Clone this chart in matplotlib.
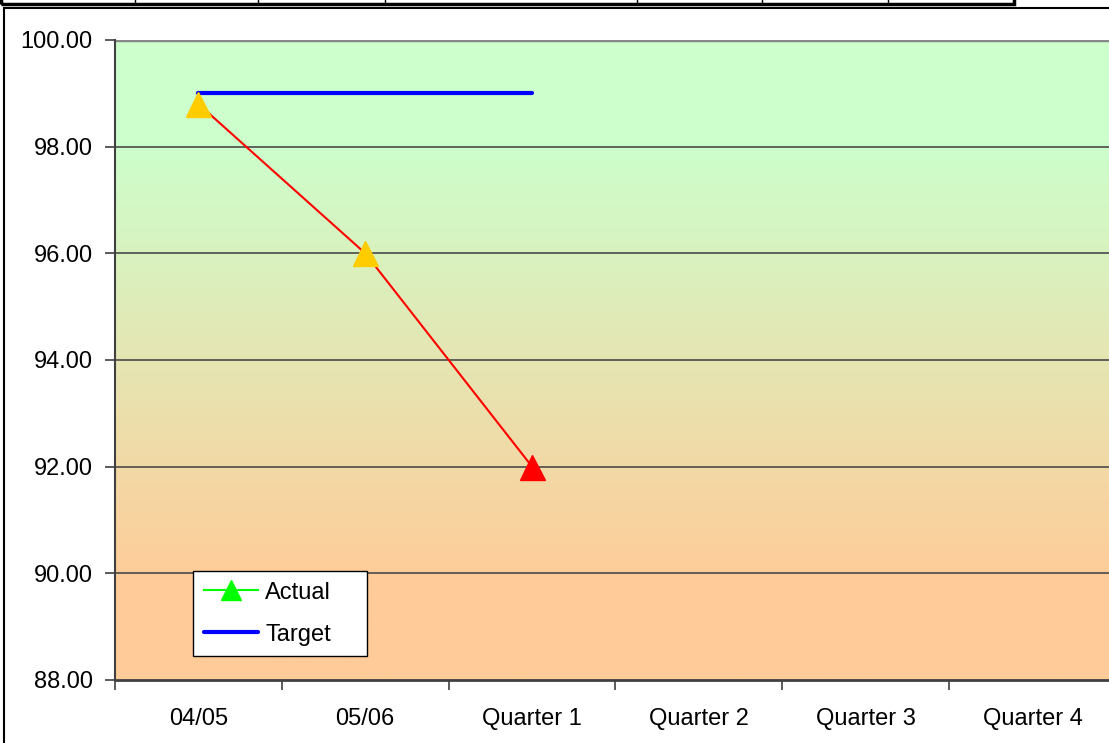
import numpy as np
import matplotlib.pyplot as plt
from matplotlib.lines import Line2D
from matplotlib.patches import Rectangle
from matplotlib.colors import LinearSegmentedColormap

plt.rcParams['font.family'] = ['Liberation Sans', 'DejaVu Sans']

# data
categories = ["04/05", "05/06", "Quarter 1", "Quarter 2", "Quarter 3", "Quarter 4"]
actual = [98.8, 96.0, 92.0]
actual_colors = ["#FFCC00", "#FFCC00", "#FF0000"]
target = [99.0, 99.0, 99.0]
yticks = [88, 90, 92, 94, 96, 98, 100]

W, H = 1109, 743
fig = plt.figure(figsize=(W / 100, H / 100), dpi=100)
fig.patch.set_facecolor("white")

# plot area runs past the right edge of the image
ax = fig.add_axes([115 / W, 63 / H, 1001 / W, 640 / H])
ax.set_xlim(-0.5, len(categories) - 0.5)
ax.set_ylim(88, 100)

# green-to-orange background, flat at both ends
cmap = LinearSegmentedColormap.from_list(
    "bg", [(0.0, "#FFCC99"), (0.16, "#FFCC99"), (0.84, "#CCFFCC"), (1.0, "#CCFFCC")])
grad = np.linspace(0, 1, 256).reshape(-1, 1)
ax.imshow(grad, cmap=cmap, aspect="auto", origin="lower",
          extent=[-0.5, len(categories) - 0.5, 88, 100], zorder=0)

for y in yticks[1:-1]:
    ax.axhline(y, color="#4a4a4a", lw=1.2, zorder=1)
ax.axhline(100, color="#888888", lw=2.5, zorder=1)

x = np.arange(len(categories))
n = len(actual)
ax.plot(x[:len(target)], target, color="#0000FF", lw=3, solid_capstyle="round", zorder=3)
ax.plot(x[:n], actual, color="#FF0000", lw=1.5, zorder=4)
for xi, yi, c in zip(x[:n], actual, actual_colors):
    ax.plot(xi, yi, marker="^", ms=18, color=c, mec=c, zorder=5)

ax.set_yticks(yticks)
ax.set_yticklabels([f"{v:.2f}" for v in yticks], fontsize=17)
ax.set_xticks(x)
ax.set_xticklabels(categories, fontsize=17)
ax.set_xticks(np.arange(-0.5, len(categories)), minor=True)
ax.tick_params(axis="x", which="major", length=0, pad=20)
ax.tick_params(axis="x", which="minor", length=7, width=1.2, color="#404040")
ax.tick_params(axis="y", length=7, width=1.2, color="#404040", pad=9)

for s in ["top", "right"]:
    ax.spines[s].set_visible(False)
ax.spines["left"].set_color("#404040")
ax.spines["left"].set_linewidth(1.5)
ax.spines["bottom"].set_color("#404040")
ax.spines["bottom"].set_linewidth(2)

handles = [
    Line2D([], [], color="#00FF00", lw=1.5, marker="^", ms=14, mfc="#00FF00", mec="#00FF00"),
    Line2D([], [], color="#0000FF", lw=3, solid_capstyle="round"),
]
leg = ax.legend(handles, ["Actual", "Target"], loc="upper left", mode="expand",
                bbox_to_anchor=(193 / W, 1 - 657 / H, 174 / W, 86 / H),
                bbox_transform=fig.transFigure, borderaxespad=0,
                fontsize=17, fancybox=False, framealpha=1, edgecolor="black",
                handlelength=2.3, handletextpad=0.3, borderpad=0.45, labelspacing=0.85)
leg.get_frame().set_linewidth(1.0)

# outer chart frame
fig.add_artist(Rectangle((4 / W, -0.1), 1.2, 1.1 - 8 / H, transform=fig.transFigure,
                         fill=False, ec="black", lw=1.5))

# table strip along the top edge
fig.add_artist(Rectangle((1 / W, 1 - 4 / H), 1013 / W, 10 / H,
                         transform=fig.transFigure, fill=False, ec="black", lw=2.5))
for xd in [135, 258, 385, 637, 762, 888]:
    fig.add_artist(Line2D([xd / W, xd / W], [1 - 4 / H, 1], transform=fig.transFigure,
                          color="black", lw=1))

fig.savefig("out.png", dpi=100)
